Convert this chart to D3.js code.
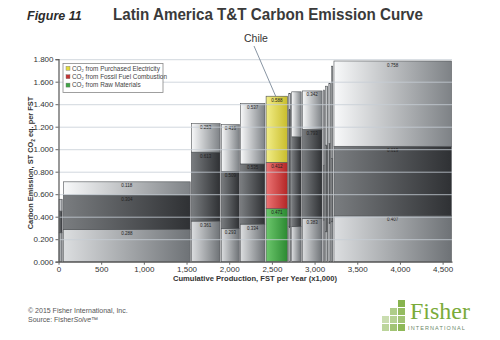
<!DOCTYPE html>
<html>
<head>
<meta charset="utf-8">
<script src="https://cdn.jsdelivr.net/npm/d3@7"></script>
<style>
  body { margin: 0; background: #fff; }
  svg { font-family: "Liberation Sans", Arial, sans-serif; }
</style>
</head>
<body>
<div id="chart"></div>
<script>
// mills sorted by total emission, widths are production (x1,000 FST/yr)
const production = [50, 1500, 350, 225, 300, 265, 35, 125, 245, 27, 38, 32, 28, 1390];
const rawMaterials = [0.257, 0.288, 0.361, 0.293, 0.334, 0.471, 0.311, 0.311, 0.383, 0.370, 0.266, 0.344, 0.355, 0.407];
const fossilFuel = [0.193, 0.304, 0.613, 0.509, 0.535, 0.412, 1.036, 0.799, 0.793, 0.489, 0.770, 0.707, 0.563, 0.619];
const electricity = [0.105, 0.118, 0.253, 0.416, 0.537, 0.588, 0.149, 0.400, 0.342, 0.666, 0.524, 0.533, 0.820, 0.758];
const chileIndex = 5;
const legendLabels = ["from Purchased Electricity", "from Fossil Fuel Combustion", "from Raw Materials"];
const yTicks = [0, 0.2, 0.4, 0.6, 0.8, 1.0, 1.2, 1.4, 1.6, 1.8];
const xTicks = [0, 500, 1000, 1500, 2000, 2500, 3000, 3500, 4000, 4500];

let svg = d3.select("#chart").append("svg")
    .attr("width", 500)
    .attr("height", 340);

let x = d3.scaleLinear().domain([0, 4610]).range([58.5, 452]);
let y = d3.scaleLinear().domain([0, 1.8]).range([261.7, 59.2]);

// gradients
let defs = svg.append("defs");
function grad(id, c1, c2) {
    let g = defs.append("linearGradient").attr("id", id)
        .attr("x1", 0).attr("x2", 1).attr("y1", 0).attr("y2", 0);
    g.append("stop").attr("offset", "0%").attr("stop-color", c1);
    g.append("stop").attr("offset", "100%").attr("stop-color", c2);
}
grad("gLight", "#f8f9fa", "#7e8286");
grad("gLow", "#dcdee0", "#6e7276");
grad("gDark", "#7a7d80", "#2f3134");
grad("gYellow", "#f2ee88", "#c9bd2c");
grad("gRed", "#ec7474", "#b42626");
grad("gGreen", "#6cc76c", "#2c8a32");

// titles
svg.append("text").attr("x", 27).attr("y", 20)
    .attr("font-size", 12.5).attr("font-weight", "bold").attr("font-style", "italic")
    .attr("fill", "#2b2b2b").text("Figure 11");
svg.append("text").attr("x", 113).attr("y", 20)
    .attr("font-size", 16).attr("font-weight", "bold")
    .attr("fill", "#3a3a3a").attr("textLength", 310).attr("lengthAdjust", "spacingAndGlyphs")
    .text("Latin America T&T Carbon Emission Curve");

// bars
let x0 = 0;
let bars = production.map((p, i) => {
    let b = { x0: x0, x1: x0 + p, r: rawMaterials[i], f: fossilFuel[i], e: electricity[i], i: i };
    x0 += p;
    return b;
});

let g = svg.append("g");
bars.forEach(b => {
    let chile = b.i === chileIndex;
    let segs = [
        { lo: 0, hi: b.r, v: b.r, fill: chile ? "url(#gGreen)" : "url(#gLow)" },
        { lo: b.r, hi: b.r + b.f, v: b.f, fill: chile ? "url(#gRed)" : "url(#gDark)" },
        { lo: b.r + b.f, hi: b.r + b.f + b.e, v: b.e, fill: chile ? "url(#gYellow)" : "url(#gLight)" }
    ];
    let left = x(b.x0) + 0.6, right = x(b.x1) - 0.6;
    let w = Math.max(0.8, right - left);
    segs.forEach(s => {
        g.append("rect")
            .attr("x", left).attr("width", w)
            .attr("y", y(s.hi)).attr("height", y(s.lo) - y(s.hi))
            .attr("fill", s.fill)
            .attr("stroke", "#4d5054").attr("stroke-width", 0.6);
        if (right - left > 15) {
            g.append("text")
                .attr("x", (left + right) / 2).attr("y", y(s.hi) + 5.5)
                .attr("text-anchor", "middle").attr("font-size", 4.5)
                .attr("fill", "#222").text(s.v.toFixed(3));
        }
    });
});

// gridlines drawn over the bars
svg.append("g").selectAll("line").data(yTicks.slice(1)).enter().append("line")
    .attr("x1", x(0)).attr("x2", 452)
    .attr("y1", d => y(d) + 0.5).attr("y2", d => y(d) + 0.5)
    .attr("stroke", "#c6cdd6").attr("stroke-opacity", 0.8).attr("stroke-width", 1);

// axes
let yAxis = svg.append("g").attr("transform", "translate(" + x(0) + ",0)")
    .call(d3.axisLeft(y).tickValues(yTicks).tickFormat(d3.format(".3f")).tickSize(3));
let xAxis = svg.append("g").attr("transform", "translate(0," + y(0) + ")")
    .call(d3.axisBottom(x).tickValues(xTicks).tickFormat(d3.format(",")).tickSize(3).tickSizeOuter(0));
[yAxis, xAxis].forEach(a => {
    a.select(".domain").attr("stroke", "#555").attr("stroke-width", 1.2);
    a.selectAll(".tick line").attr("stroke", "#666");
    a.selectAll("text").attr("font-size", 8).attr("fill", "#333")
        .attr("font-family", "Liberation Sans, Arial, sans-serif");
});
yAxis.selectAll("text").attr("x", -5);
xAxis.selectAll("text").attr("y", 5);

// axis titles
let yt = svg.append("text")
    .attr("transform", "translate(33,163) rotate(-90)")
    .attr("text-anchor", "middle").attr("font-size", 7.4).attr("font-weight", "bold").attr("fill", "#333");
yt.append("tspan").text("Carbon Emission, ST CO");
yt.append("tspan").attr("font-size", 4.8).attr("dy", 1.8).text("2");
yt.append("tspan").attr("dy", -1.8).text(" eq. per FST");

svg.append("text").attr("x", 255).attr("y", 281)
    .attr("text-anchor", "middle").attr("font-size", 7.6).attr("font-weight", "bold").attr("fill", "#333")
    .text("Cumulative Production, FST per Year (x1,000)");

// legend
let lg = svg.append("g").attr("transform", "translate(63,63.5)");
lg.append("rect").attr("width", 100).attr("height", 29)
    .attr("fill", "#fff").attr("stroke", "#888").attr("stroke-width", 0.8);
let legendColors = ["#e3db3c", "#c43434", "#3fa544"];
legendLabels.forEach((t, i) => {
    let row = lg.append("g").attr("transform", "translate(3," + (5 + i * 8.4) + ")");
    row.append("rect").attr("x", 0).attr("y", -2.2).attr("width", 4).attr("height", 4)
        .attr("fill", legendColors[i]).attr("stroke", "#777").attr("stroke-width", 0.4);
    let tx = row.append("text").attr("x", 6).attr("y", 2).attr("font-size", 6.4).attr("fill", "#444");
    tx.append("tspan").text("CO");
    tx.append("tspan").attr("font-size", 4).attr("dy", 1).text("2");
    tx.append("tspan").attr("dy", -1).text(" " + t);
});

// Chile callout
let cb = bars[chileIndex];
let cTop = cb.r + cb.f + cb.e;
svg.append("line")
    .attr("x1", 254).attr("y1", 46)
    .attr("x2", x(cb.x0 + (cb.x1 - cb.x0) * 0.45)).attr("y2", y(cTop))
    .attr("stroke", "#6a7a8c").attr("stroke-width", 0.8);
svg.append("text").attr("x", 256).attr("y", 42)
    .attr("text-anchor", "middle").attr("font-size", 10.5).attr("fill", "#333").text("Chile");

// footer
svg.append("text").attr("x", 28).attr("y", 313)
    .attr("font-size", 7).attr("fill", "#555").text("\u00a9 2015 Fisher International, Inc.");
let src = svg.append("text").attr("x", 28).attr("y", 322)
    .attr("font-size", 7).attr("fill", "#555");
src.append("tspan").text("Source: Fisher");
src.append("tspan").attr("font-style", "italic").text("Solve");
src.append("tspan").text("\u2122");

// logo
let logo = svg.append("g");
let tiles = [[14, 0, 0.9], [14, 8, 0.8], [6, 8, 0.6], [14, 16, 0.7], [6, 16, 0.55], [-2, 16, 0.4],
             [14, 24, 0.85], [6, 24, 0.7], [-2, 24, 0.5]];
tiles.forEach(t => {
    logo.append("rect").attr("x", 384 + t[0]).attr("y", 300 + t[1])
        .attr("width", 7).attr("height", 7)
        .attr("fill", "#7aab3a").attr("opacity", t[2]);
});
logo.append("text").attr("x", 410).attr("y", 319)
    .attr("font-family", "Liberation Serif, serif").attr("font-size", 24)
    .attr("fill", "#7aab3a").text("Fisher");
logo.append("text").attr("x", 408).attr("y", 330)
    .attr("font-size", 5.5).attr("letter-spacing", 1.1).attr("fill", "#6d8a6a").text("INTERNATIONAL");
</script>
</body>
</html>
